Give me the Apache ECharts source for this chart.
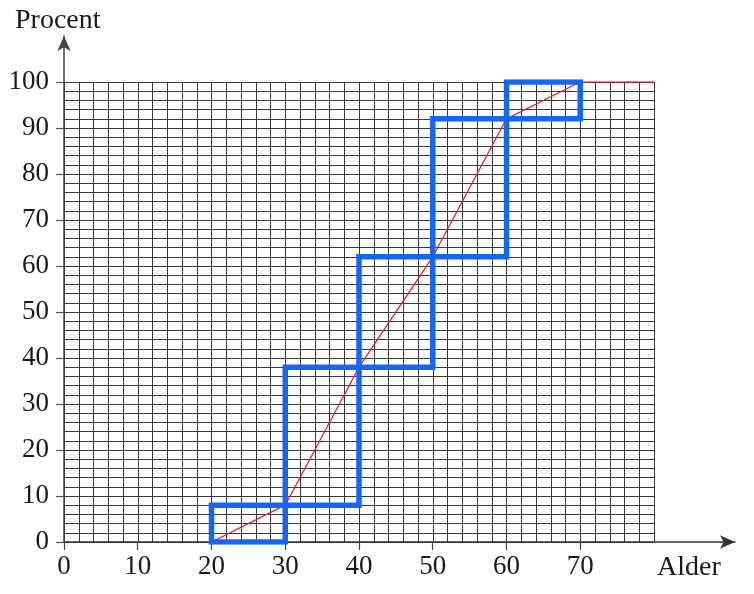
<!DOCTYPE html>
<html>
<head>
<meta charset="utf-8">
<script src="https://cdn.jsdelivr.net/npm/echarts@6/dist/echarts.min.js"></script>
<style>html,body{margin:0;padding:0;background:#fff}#c{width:754px;height:594px}</style>
</head>
<body>
<div id="c"></div>
<script>
// Data
const ages = [20, 30, 40, 50, 60, 70, 80];
const cumulative = [0, 8, 38, 62, 92, 100, 100];
const xTicks = [0, 10, 20, 30, 40, 50, 60, 70];
const yTicks = [0, 10, 20, 30, 40, 50, 60, 70, 80, 90, 100];
const xName = 'Alder';
const yName = 'Procent';

const FONT = 'Liberation Serif';
const BLUE = '#1666f6';

const series = [];
// red cumulative line
series.push({
  type: 'line', xAxisIndex: 1, yAxisIndex: 1, symbol: 'none', z: 3,
  lineStyle: { color: '#e41e30', width: 1.3 },
  data: ages.map((a, i) => [a, cumulative[i]])
});
// blue boxes (5 intervals, last point is extension)
for (let i = 0; i < 5; i++) {
  const x0 = ages[i], x1 = ages[i + 1], y0 = cumulative[i], y1 = cumulative[i + 1];
  series.push({
    type: 'line', xAxisIndex: 1, yAxisIndex: 1, symbol: 'none', z: 4,
    lineStyle: { color: BLUE, width: 5.5, cap: 'square', join: 'miter' },
    data: [[x0, y0], [x1, y0], [x1, y1], [x0, y1], [x0, y0]]
  });
}

const chart = echarts.init(document.getElementById('c'));
chart.setOption({
  animation: false,
  grid: [
    { left: 64, right: 19, top: 36, bottom: 52 },
    { left: 64, width: 590, top: 82, bottom: 52 }
  ],
  xAxis: [
    {
      gridIndex: 0, type: 'value', min: 0, max: 91, interval: 10,
      splitLine: { show: false },
      axisLine: { show: true, lineStyle: { color: '#333', width: 1.5 }, symbol: ['none', 'arrow'], symbolSize: [10, 15] },
      axisTick: { show: true, length: 8, customValues: xTicks, lineStyle: { color: '#444', width: 1.2 } },
      axisLabel: { customValues: xTicks, fontFamily: FONT, fontSize: 27, color: '#1a1a1a', margin: 11 }
    },
    {
      gridIndex: 1, type: 'value', min: 0, max: 80, interval: 2,
      axisLine: { show: false }, axisTick: { show: false }, axisLabel: { show: false },
      splitLine: { show: true, lineStyle: { color: '#3a3a3a', width: 1 } }
    }
  ],
  yAxis: [
    {
      gridIndex: 0, type: 'value', min: 0, max: 110, interval: 10,
      splitLine: { show: false },
      axisLine: { show: true, lineStyle: { color: '#444', width: 1.5 }, symbol: ['none', 'arrow'], symbolSize: [10, 15] },
      axisTick: { show: true, length: 8, customValues: yTicks, lineStyle: { color: '#555', width: 1.2 } },
      axisLabel: { customValues: yTicks, fontFamily: FONT, fontSize: 27, color: '#1a1a1a', margin: 15 }
    },
    {
      gridIndex: 1, type: 'value', min: 0, max: 100, interval: 2,
      axisLine: { show: false }, axisTick: { show: false }, axisLabel: { show: false },
      splitLine: { show: true, lineStyle: { color: '#3a3a3a', width: 1 } }
    }
  ],
  graphic: [
    { type: 'text', left: 15, top: 7, style: { text: yName, font: '28px "Liberation Serif"', fill: '#1a1a1a' } },
    { type: 'text', left: 657, top: 554, style: { text: xName, font: '28px "Liberation Serif"', fill: '#1a1a1a' } }
  ],
  series: series
});
</script>
</body>
</html>
